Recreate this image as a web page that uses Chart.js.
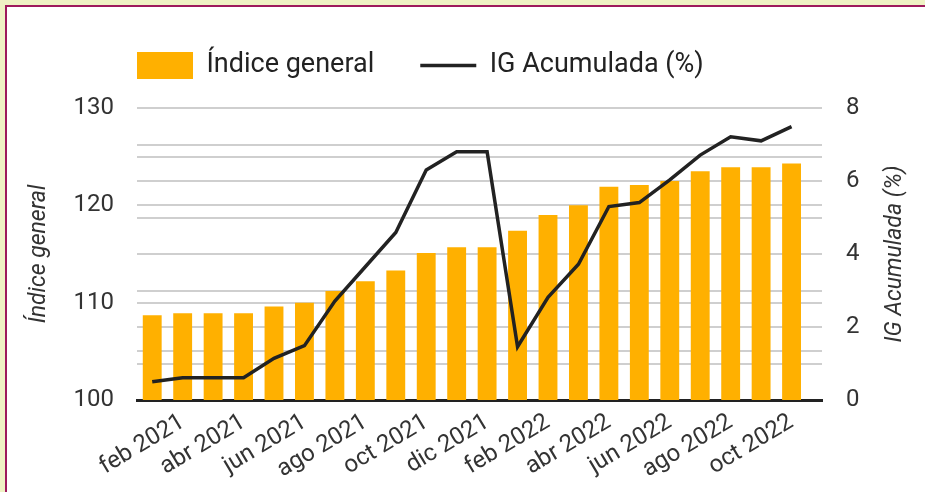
<!DOCTYPE html>
<html>
<head>
<meta charset="utf-8">
<script src="https://cdn.jsdelivr.net/npm/chart.js@4.4.1/dist/chart.umd.min.js"></script>
<style>
  html, body { margin: 0; padding: 0; background: #eff2c4; overflow: hidden; }
  #frame {
    position: absolute; left: 5px; top: 5px; width: 940px; height: 500px;
    background: #fff; border-left: 2px solid #9e1a5c; border-top: 2px solid #9e1a5c;
  }
  #chart { position: absolute; left: 0; top: 0; }
</style>
</head>
<body>
<div id="frame"></div>
<canvas id="chart" width="925" height="492"></canvas>
<script>
// meses ene 2021 - oct 2022
const months = [
  'ene 2021', 'feb 2021', 'mar 2021', 'abr 2021', 'may 2021', 'jun 2021',
  'jul 2021', 'ago 2021', 'sep 2021', 'oct 2021', 'nov 2021', 'dic 2021',
  'ene 2022', 'feb 2022', 'mar 2022', 'abr 2022', 'may 2022', 'jun 2022',
  'jul 2022', 'ago 2022', 'sep 2022', 'oct 2022'
];
const indiceGeneral = [
  108.7, 108.9, 108.9, 108.9, 109.6, 110.0, 111.2, 112.2, 113.3, 115.1, 115.7, 115.7,
  117.4, 119.0, 120.0, 121.9, 122.1, 122.5, 123.5, 123.9, 123.9, 124.3
];
const igAcumulada = [
  0.50, 0.61, 0.61, 0.61, 1.14, 1.49, 2.71, 3.65, 4.59, 6.30, 6.80, 6.80,
  1.46, 2.81, 3.72, 5.30, 5.41, 6.03, 6.71, 7.21, 7.10, 7.49
];
const leftTicks = [100, 110, 120, 130];
const rightTicks = [0, 2, 4, 6, 8];

Chart.defaults.font.family = 'Roboto';
Chart.defaults.color = '#333';

// espacio bajo la leyenda y leyenda alineada con el area del grafico
const legendLayout = {
  id: 'legendLayout',
  beforeInit(chart) {
    const fit = chart.legend.fit;
    chart.legend.fit = function () {
      fit.bind(chart.legend)();
      this.height += 19;
    };
  },
  afterLayout(chart) {
    const lg = chart.legend;
    const d = chart.chartArea.left - lg.options.labels.padding - lg.left;
    lg.left += d;
    lg.right += d;
  }
};

// titulo del eje derecho, leido de abajo hacia arriba
const rightTitle = {
  id: 'rightTitle',
  afterDraw(chart) {
    const s = chart.scales.y1;
    const ctx = chart.ctx;
    ctx.save();
    ctx.font = 'italic 23px Roboto';
    ctx.fillStyle = '#333';
    ctx.textAlign = 'center';
    ctx.textBaseline = 'middle';
    ctx.translate(s.right - 30, (s.top + s.bottom) / 2);
    ctx.rotate(-Math.PI / 2);
    ctx.fillText('IG Acumulada (%)', 0, 0);
    ctx.restore();
  }
};

new Chart(document.getElementById('chart'), {
  data: {
    datasets: [{
      type: 'bar',
      label: 'Índice general',
      data: indiceGeneral.map((v, i) => ({ x: i, y: v })),
      backgroundColor: '#ffb000',
      borderWidth: 0,
      pointStyle: 'rect',
      categoryPercentage: 1,
      barPercentage: 0.62,
      yAxisID: 'y',
      order: 1
    }, {
      type: 'line',
      label: 'IG Acumulada (%)',
      data: igAcumulada.map((v, i) => ({ x: i, y: v })),
      borderColor: '#222',
      backgroundColor: '#222',
      borderWidth: 3.5,
      pointRadius: 0,
      pointStyle: 'line',
      tension: 0,
      yAxisID: 'y1',
      order: 0
    }]
  },
  options: {
    responsive: false,
    animation: false,
    layout: { padding: { top: 6, left: 0, right: 0, bottom: 12 } },
    plugins: {
      tooltip: { enabled: false },
      legend: {
        align: 'start',
        labels: {
          usePointStyle: true,
          pointStyleWidth: 56,
          boxHeight: 29,
          padding: 46,
          color: '#222',
          font: { size: 27 },
          sort: (a, b) => a.datasetIndex - b.datasetIndex
        }
      }
    },
    scales: {
      x: {
        type: 'linear',
        offset: false,
        min: -0.5,
        max: months.length,
        afterFit: s => { s.height = 80; },
        grid: { display: false, drawTicks: false, offset: false },
        border: { display: true, color: '#222', width: 3 },
        ticks: {
          stepSize: 1,
          autoSkip: false,
          minRotation: 31,
          maxRotation: 31,
          padding: 8,
          font: { size: 24 },
          color: '#333',
          callback: v => (Number.isInteger(v) && v % 2 === 1) ? months[v] : ''
        }
      },
      y: {
        position: 'left',
        min: 100,
        max: 130,
        afterFit: s => { s.width = 137; },
        grid: { color: '#cfcfcf', lineWidth: 2, drawTicks: false },
        border: { display: false },
        ticks: {
          stepSize: 5,
          padding: 23,
          font: { size: 24 },
          callback: v => leftTicks.includes(v) ? v : ''
        },
        title: {
          display: true,
          text: 'Índice general',
          font: { size: 23, style: 'italic' },
          padding: { top: 25, bottom: 0 }
        }
      },
      y1: {
        position: 'right',
        min: 0,
        max: 8,
        afterFit: s => { s.width = 103; },
        grid: { color: '#cfcfcf', lineWidth: 2, drawTicks: false },
        border: { display: false },
        ticks: {
          stepSize: 1,
          padding: 24,
          font: { size: 24 },
          callback: v => rightTicks.includes(v) ? v : ''
        }
      }
    }
  },
  plugins: [legendLayout, rightTitle]
});
</script>
</body>
</html>
